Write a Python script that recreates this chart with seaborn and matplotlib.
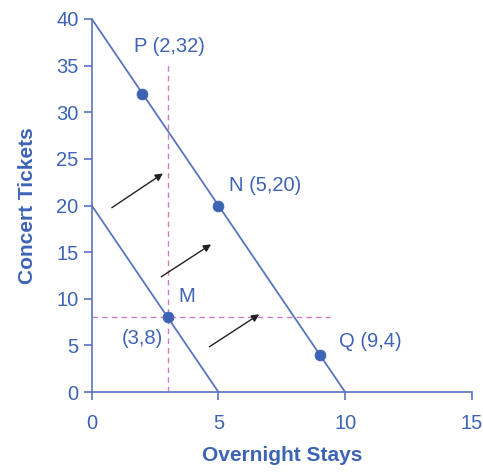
import numpy as np
import pandas as pd
import matplotlib
matplotlib.use("Agg")
import matplotlib.pyplot as plt
import seaborn as sns

# budget lines
high_x = [0, 10]
high_y = [40, 0]
low_x = [0, 5]
low_y = [20, 0]

# choice points
pt_names = ["P (2,32)", "N (5,20)", "Q (9,4)", "M"]
pt_x = [2, 5, 9, 3]
pt_y = [32, 20, 4, 8]

# arrows (start, end)
arrow_start = [(0.7, 19.6), (2.65, 12.2), (4.55, 4.7)]
arrow_end = [(2.9, 23.6), (4.8, 16.0), (6.7, 8.5)]

blue = "#3d63b5"
line_blue = "#5a74bf"
pink = "#cc7fbd"

sns.set_style("white")
plt.rcParams["font.family"] = ["Liberation Sans", "DejaVu Sans"]

fig = plt.figure(figsize=(4.83, 4.73), dpi=100)
ax = fig.add_axes([0.19, 0.171, 0.787, 0.789])

sns.lineplot(x=high_x, y=high_y, ax=ax, color=line_blue, lw=1.3)
sns.lineplot(x=low_x, y=low_y, ax=ax, color=line_blue, lw=1.3)

ax.plot([3, 3], [0, 35.3], ls=(0, (4, 3)), color=pink, lw=1)
ax.plot([0, 9.4], [8, 8], ls=(0, (4, 3)), color=pink, lw=1)

sns.scatterplot(x=pt_x, y=pt_y, ax=ax, color=blue, s=60, edgecolor=blue, zorder=5)

for s, e in zip(arrow_start, arrow_end):
    ax.annotate("", xy=e, xytext=s,
                arrowprops=dict(arrowstyle="-|>", color="#222222", lw=1,
                                mutation_scale=11))

lab_kw = dict(color=blue, fontsize=14.5)
ax.text(3.05, 37.0, pt_names[0], ha="center", va="center", **lab_kw)
ax.text(5.4, 22.1, pt_names[1], ha="left", va="center", **lab_kw)
ax.text(9.75, 5.4, pt_names[2], ha="left", va="center", **lab_kw)
ax.text(3.4, 10.3, pt_names[3], ha="left", va="center", **lab_kw)
ax.text(2.8, 5.8, "(3,8)", ha="right", va="center", **lab_kw)

ax.set_xlim(0, 15)
ax.set_ylim(0, 40)
ax.set_xticks([0, 5, 10, 15])
ax.set_yticks(range(0, 41, 5))
for side in ["top", "right"]:
    ax.spines[side].set_visible(False)
for side in ["left", "bottom"]:
    ax.spines[side].set_color(line_blue)
    ax.spines[side].set_linewidth(1.2)
ax.tick_params(colors=line_blue, labelcolor=blue, labelsize=14.5,
               length=6, width=1.2, direction="out", left=True, bottom=True)
ax.tick_params(axis="x", pad=10)
ax.set_xlabel("Overnight Stays", color=blue, fontsize=15, fontweight="bold", labelpad=9)
ax.set_ylabel("Concert Tickets", color=blue, fontsize=15, fontweight="bold", labelpad=14)

fig.savefig("out.png", dpi=100)
